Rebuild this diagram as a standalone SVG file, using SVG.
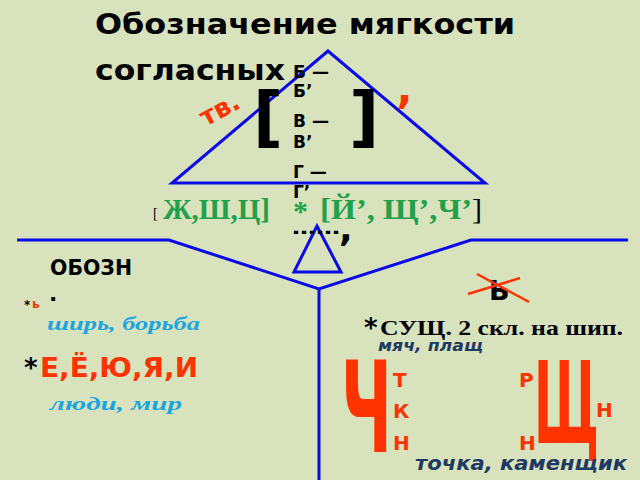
<svg xmlns="http://www.w3.org/2000/svg" width="640" height="480" viewBox="0 0 640 480">
<style>
.bg{fill:#d8e2bc}
.ln{fill:none;stroke:#0a0ae6;stroke-width:3;stroke-linejoin:miter}
.sb{font-family:"DejaVu Sans","Liberation Sans",sans-serif;font-weight:bold}
.sbi{font-family:"DejaVu Sans","Liberation Sans",sans-serif;font-weight:bold;font-style:italic}
.rb{font-family:"Liberation Serif","DejaVu Serif",serif;font-weight:bold}
.rbi{font-family:"Liberation Serif","DejaVu Serif",serif;font-weight:bold;font-style:italic}
.rr{font-family:"Liberation Serif","DejaVu Serif",serif}
.k{fill:#000}
.red{fill:#ff3300}
.grn{fill:#22a04c}
.lb{fill:#1ca6e0}
.db{fill:#1f3a62}
</style>
<rect class="bg" x="0" y="0" width="640" height="480"/>

<g id="title">
<text class="sb k" x="95" y="34" font-size="29" textLength="420" lengthAdjust="spacingAndGlyphs">Обозначение мягкости</text>
<text class="sb k" x="95" y="80" font-size="29" textLength="190" lengthAdjust="spacingAndGlyphs">согласных</text>
</g>

<g id="connectors">
<polygon class="ln" points="328,51 172,183 485,183"/>
<polygon class="ln" points="317,226 294,272 341,272"/>
<polyline class="ln" points="17,240 169,240 319,289 471,240 628,240"/>
<line class="ln" x1="319" y1="289" x2="319" y2="480"/>
</g>

<g id="brackets">
<text class="sb k" x="253" y="139" font-size="66">[</text>
<text class="sb k" x="349" y="139" font-size="66">]</text>
</g>

<g id="pairs">
<text class="sb k" x="293" y="78" font-size="17">Б —</text>
<text class="sb k" x="293" y="97" font-size="17">Б’</text>
<text class="sb k" x="293" y="127" font-size="17">В —</text>
<text class="sb k" x="293" y="148" font-size="17">В’</text>
<text class="sb k" x="293" y="178" font-size="17">Г —</text>
<text class="sb k" x="293" y="198" font-size="17">Г’</text>
<text class="sb k" x="292" y="234" font-size="17" textLength="48" lengthAdjust="spacingAndGlyphs">……</text>
<text class="sb k" x="339" y="241" font-size="36">,</text>
</g>

<g id="tv">
<text class="sb red" x="220" y="118" font-size="26" text-anchor="middle" transform="rotate(-28 220 110)">тв.</text>
<text class="sb red" x="396" y="128" font-size="44">’</text>
</g>

<g id="green">
<text class="rr k" x="153" y="218" font-size="14">[</text>
<text class="rb grn" x="163" y="219" font-size="30" textLength="107" lengthAdjust="spacingAndGlyphs">Ж,Ш,Ц]</text>
<text class="rb grn" x="293" y="221" font-size="30">*</text>
<text class="rb grn" x="320" y="219" font-size="30" textLength="152" lengthAdjust="spacingAndGlyphs">[Й’, Щ’,Ч’</text>
<text class="rr k" x="472" y="219" font-size="30">]</text>
</g>

<g id="left">
<text class="sb k" x="50" y="275" font-size="22" textLength="82" lengthAdjust="spacingAndGlyphs">ОБОЗН</text>
<text class="sb k" x="49" y="301" font-size="22">.</text>
<text class="sb k" x="24" y="309" font-size="12">*</text>
<text class="sb red" x="32" y="308" font-size="12">ь</text>
<text class="rbi lb" x="47" y="330" font-size="19" textLength="153" lengthAdjust="spacingAndGlyphs">ширь, борьба</text>
<text class="sb k" x="24" y="377" font-size="26">*</text>
<text class="sb red" x="40" y="377" font-size="26" textLength="158" lengthAdjust="spacingAndGlyphs">Е,Ё,Ю,Я,И</text>
<text class="rbi lb" x="50" y="410" font-size="19" textLength="132" lengthAdjust="spacingAndGlyphs">люди, мир</text>
</g>

<g id="right">
<text class="sb k" x="489" y="300" font-size="27">Ь</text>
<line x1="468" y1="294" x2="520" y2="278" stroke="#ff3300" stroke-width="2.5"/>
<line x1="477" y1="274" x2="529" y2="302" stroke="#ff3300" stroke-width="2.5"/>
<text class="sb k" x="364" y="337" font-size="26">*</text>
<text class="rb k" x="380" y="335" font-size="21" textLength="243" lengthAdjust="spacingAndGlyphs">СУЩ. 2 скл. на шип.</text>
<text class="sbi db" x="378" y="351" font-size="16" textLength="105" lengthAdjust="spacingAndGlyphs">мяч, плащ</text>
<text class="sb red" x="0" y="0" font-size="126" transform="translate(341,452) scale(0.5,1)">Ч</text>
<text class="sb red" x="393" y="387" font-size="20">Т</text>
<text class="sb red" x="393" y="418" font-size="20">К</text>
<text class="sb red" x="393" y="450" font-size="20">Н</text>
<text class="sb red" x="0" y="0" font-size="114" transform="translate(534,443) scale(0.43,1)">Щ</text>
<text class="sb red" x="519" y="387" font-size="20">Р</text>
<text class="sb red" x="596" y="417" font-size="20">Н</text>
<text class="sb red" x="519" y="450" font-size="20">Н</text>
<text class="sbi db" x="415" y="470" font-size="20" textLength="212" lengthAdjust="spacingAndGlyphs">точка, каменщик</text>
</g>
</svg>
